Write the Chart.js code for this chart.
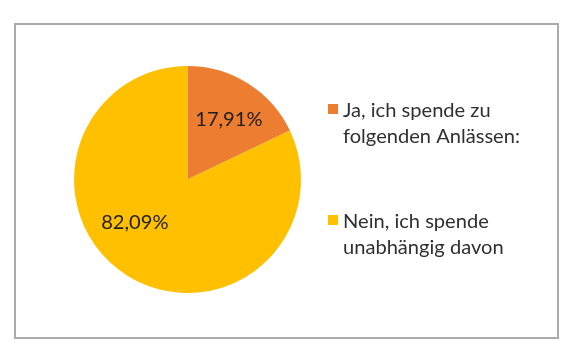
<!DOCTYPE html>
<html>
<head>
<meta charset="utf-8">
<script src="https://cdn.jsdelivr.net/npm/chart.js@4.4.1/dist/chart.umd.min.js"></script>
<style>
  html, body { margin: 0; padding: 0; background: #ffffff; width: 584px; height: 360px; overflow: hidden; }
  #frame { position: absolute; left: 14px; top: 23px; width: 541px; height: 312px; border: 2px solid #ababab; }
  #c { position: absolute; left: 0; top: 0; }
</style>
</head>
<body>
<div id="frame"></div>
<canvas id="c" width="584" height="360"></canvas>
<script>
// ---- data ----
const categories = ["Ja, ich spende zu folgenden Anlässen:", "Nein, ich spende unabhängig davon"];
const legendLines = [["Ja, ich spende zu", "folgenden Anlässen:"], ["Nein, ich spende", "unabhängig davon"]];
const shares = [17.91, 82.09];
const sliceColors = ["#ED7D31", "#FFC000"];

const FONT_FAMILY = "Lato, 'Open Sans', 'Liberation Sans', sans-serif";
const TEXT_COLOR = "#303030";

// choose a font size so legend text width resembles the reference (~148px for first line)
function fitFontSize() {
  const cv = document.createElement('canvas').getContext('2d');
  cv.font = "100px " + FONT_FAMILY;
  const w = cv.measureText(legendLines[0][0]).width;
  return Math.round(148 / w * 100 * 10) / 10;
}
const FONT_SIZE = fitFontSize();

const pieLabelPlugin = {
  id: 'pieLabels',
  afterDatasetsDraw(chart, args, opts) {
    const ctx = chart.ctx;
    const meta = chart.getDatasetMeta(0);
    const ds = chart.data.datasets[0];
    ctx.save();
    ctx.font = FONT_SIZE + "px " + FONT_FAMILY;
    ctx.fillStyle = opts.color;
    ctx.textAlign = 'center';
    ctx.textBaseline = 'middle';
    meta.data.forEach((arc, i) => {
      const p = arc.getProps(['x', 'y', 'startAngle', 'endAngle', 'outerRadius'], true);
      const mid = (p.startAngle + p.endAngle) / 2 + (opts.angleShift[i] || 0) * Math.PI / 180;
      const r = p.outerRadius * opts.radiusFrac[i];
      const tx = p.x + Math.cos(mid) * r;
      const ty = p.y + Math.sin(mid) * r;
      const txt = ds.data[i].toFixed(2).replace('.', ',') + '%';
      ctx.fillText(txt, tx, ty);
    });
    ctx.restore();
  }
};

const sideLegendPlugin = {
  id: 'sideLegend',
  afterDraw(chart, args, opts) {
    const ctx = chart.ctx;
    const ds = chart.data.datasets[0];
    ctx.save();
    ctx.font = FONT_SIZE + "px " + FONT_FAMILY;
    ctx.textAlign = 'left';
    ctx.textBaseline = 'alphabetic';
    legendLines.forEach((lines, i) => {
      const base = opts.firstBaselines[i];
      ctx.fillStyle = ds.backgroundColor[i];
      ctx.fillRect(opts.boxX, base - opts.boxOffset, opts.boxSize, opts.boxSize);
      ctx.fillStyle = TEXT_COLOR;
      lines.forEach((ln, j) => {
        ctx.fillText(ln, opts.textX, base + j * opts.lineHeight);
      });
    });
    ctx.restore();
  }
};

new Chart(document.getElementById('c'), {
  type: 'pie',
  data: {
    labels: categories,
    datasets: [{
      data: shares,
      backgroundColor: sliceColors,
      borderWidth: 0
    }]
  },
  options: {
    responsive: false,
    animation: false,
    devicePixelRatio: 1,
    layout: { padding: { left: 74, right: 283, top: 66, bottom: 67 } },
    plugins: {
      legend: { display: false },
      tooltip: { enabled: false },
      pieLabels: { color: '#1f1f1f', angleShift: [2.5, 18.4], radiusFrac: [0.64, 0.6] },
      sideLegend: { boxX: 328, boxSize: 10, boxOffset: 13, textX: 343, firstBaselines: [117, 228], lineHeight: 25.5 }
    }
  },
  plugins: [pieLabelPlugin, sideLegendPlugin]
});
</script>
</body>
</html>
